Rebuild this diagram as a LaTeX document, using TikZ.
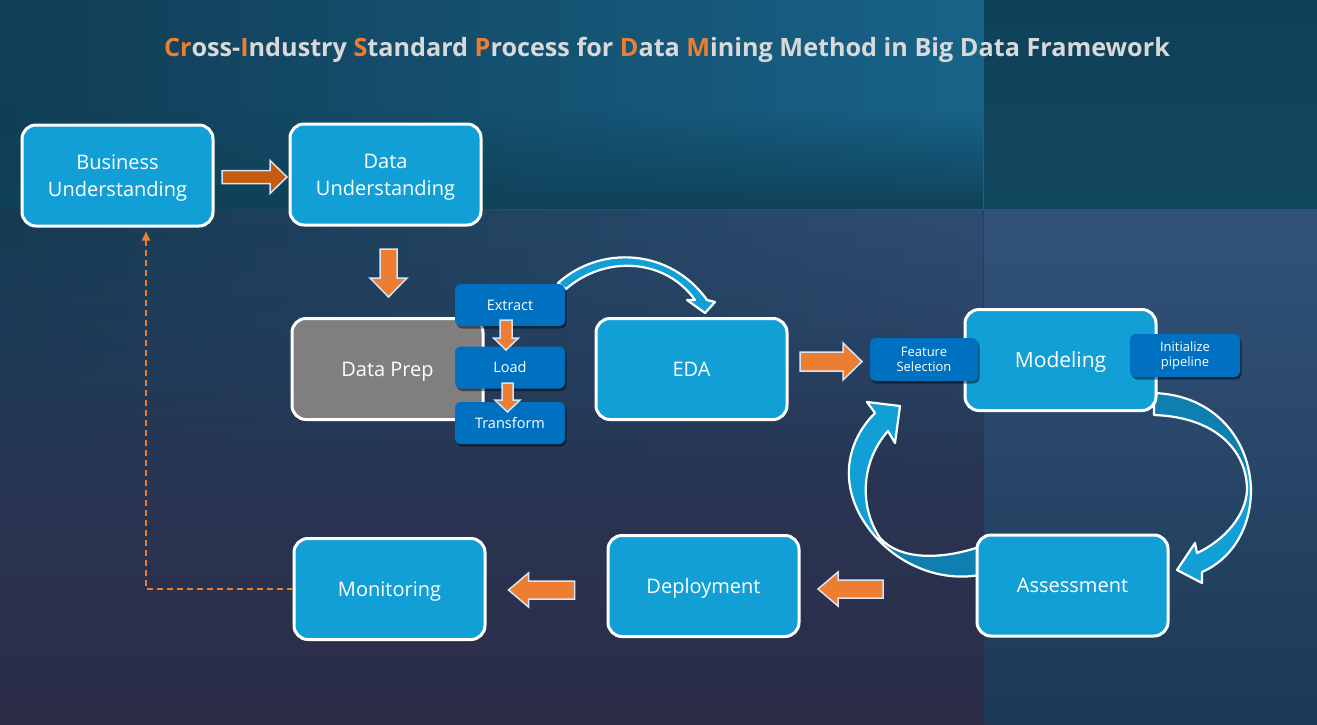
\documentclass[tikz,border=0pt]{standalone}
\usepackage{fontspec}
\setmainfont{Open Sans}
\usetikzlibrary{shadows,arrows.meta,calc,fadings}
\definecolor{nodeblue}{HTML}{129FD6}
\definecolor{banddark}{HTML}{0E7FAE}
\definecolor{smallblue}{HTML}{0070C0}
\definecolor{prepgray}{HTML}{7F7F7F}
\definecolor{corange}{HTML}{ED7D31}
\definecolor{darkorange}{HTML}{C55A11}
\definecolor{arrowedge}{HTML}{DAE3F3}
\definecolor{titlegray}{HTML}{D9D9D9}
\definecolor{lowtop}{HTML}{233F5F}
\definecolor{bgbot}{HTML}{2C2C47}
\definecolor{lowleft}{HTML}{163A52}
\definecolor{lowright}{HTML}{2F4D72}
\definecolor{bandleft}{HTML}{113D55}
\definecolor{bandright}{HTML}{186389}
\definecolor{banddeep}{HTML}{0F4258}
\definecolor{rtop}{HTML}{0F4259}
\definecolor{rtopb}{HTML}{11475F}
\definecolor{rpanT}{HTML}{32527A}
\definecolor{rpanB}{HTML}{1C3A55}
\tikzset{
  bigbox/.style={draw=white, line width=3pt, fill=nodeblue, rounded corners=14pt,
    minimum width=191pt, minimum height=101pt, text=white, align=center,
    text depth=0pt, font=\fontsize{20}{27}\selectfont},
  smallbox/.style={fill=smallblue, rounded corners=6pt, minimum width=110pt,
    minimum height=42pt, text=white, align=center, inner sep=2pt,
    drop shadow={shadow xshift=1.5pt, shadow yshift=-2.5pt, opacity=0.45, fill=black},
    font=\fontsize{14.5}{17}\selectfont},
  tinybox/.style={smallbox, font=\fontsize{13}{15.5}\selectfont},
  blockarr/.style={draw=arrowedge, line width=1.5pt, line join=miter},
  band/.style={draw=white, line width=2.2pt, line join=round},
  dashline/.style={draw=corange, line width=1.5pt, dash pattern=on 6pt off 4pt,
    -{Triangle[length=9pt,width=8pt]}},
  pics/barrow/.style args={#1/#2/#3/#4}{code={
    \path[pic actions] (-#1/2,-#2/2) -- (#1/2-#4,-#2/2) -- (#1/2-#4,-#3/2) -- (#1/2,0)
      -- (#1/2-#4,#3/2) -- (#1/2-#4,#2/2) -- (-#1/2,#2/2) -- cycle;}},
  toparrow/.style={insert path={(558,283) .. controls (600,245) and (670,248) .. (707,300)
    -- (715,302) -- (705,313) -- (687,300) -- (695,300)
    .. controls (665,258) and (605,255) .. (566,289) -- cycle}},
  rightarrow/.style={insert path={(1154,393) .. controls (1215,395) and (1250,440) .. (1251,490)
    .. controls (1251,530) and (1230,560) .. (1202,572) -- (1202,583) -- (1177,570)
    -- (1195,543) -- (1197,553) .. controls (1225,540) and (1246,515) .. (1247,490)
    .. controls (1247,450) and (1215,417) .. (1154,415) -- cycle}},
  leftarrow/.style={insert path={(979,575) .. controls (935,583) and (885,560) .. (860,515)
    .. controls (840,478) and (848,440) .. (875,413) -- (867,402) -- (900,406)
    -- (895,443) -- (888,431) .. controls (862,460) and (858,505) .. (880,538)
    .. controls (900,560) and (940,560) .. (979,547) -- cycle}}
}
\begin{document}
\begin{tikzpicture}[x=1pt,y=-1pt]
\useasboundingbox (0,0) rectangle (1317,724);
% background
\shade[top color=lowtop, bottom color=bgbot] (0,209) rectangle (986,724);
\shade[left color=lowleft, right color=lowright, path fading=south] (0,209) rectangle (986,470);
\shade[left color=bandleft, right color=bandright] (0,0) rectangle (986,209.5);
\fill[banddeep, path fading=north] (0,110) rectangle (986,209.5);
\shade[top color=rtop, bottom color=rtopb] (984.5,0) rectangle (1317,209.5);
\shade[top color=rpanT, bottom color=rpanB] (984.5,209) rectangle (1317,724);
% title
\node[font=\fontsize{25.2}{30}\selectfont\bfseries, text=titlegray] (title) at (667,50)
  {\textcolor{corange}{Cr}oss-\textcolor{corange}{I}ndustry
   \textcolor{corange}{S}tandard \textcolor{corange}{P}rocess for
   \textcolor{corange}{D}ata \textcolor{corange}{M}ining Method in Big Data Framework};
% curved block arrows (behind boxes)
\fill[nodeblue, toparrow];
\draw[band, toparrow];
\fill[nodeblue, rightarrow];
\begin{scope}
  \clip (1100,380) rectangle (1300,466);
  \fill[banddark, rightarrow];
\end{scope}
\draw[band, rightarrow];
\fill[nodeblue, leftarrow];
\begin{scope}
  \clip (870,533) rectangle (990,600);
  \fill[banddark, leftarrow];
\end{scope}
\draw[band, leftarrow];
% main boxes
\node[bigbox] (bu) at (117.5,175.5) {Business\\Understanding};
\node[bigbox] (du) at (385.5,174.5) {Data\\Understanding};
\node[bigbox, fill=prepgray] (dp) at (387.5,369) {Data Prep};
\node[bigbox] (eda) at (691.5,369) {EDA};
\node[bigbox, font=\fontsize{21}{27}\selectfont] (mod) at (1060.5,360) {Modeling};
\node[bigbox] (as) at (1072.5,585.5) {Assessment};
\node[bigbox] (dep) at (703.5,586) {Deployment};
\node[bigbox] (mon) at (389.5,589) {Monitoring};
% small boxes
\node[smallbox] (ex) at (510,305) {Extract};
\node[smallbox] (ld) at (510,367.5) {Load};
\node[smallbox] (tr) at (510,423) {Transform};
\node[tinybox, minimum width=108pt, minimum height=43pt] (fs) at (924,359.5) {Feature\\Selection};
\node[tinybox, minimum height=43pt] (ip) at (1185,355.5) {Initialize\\pipeline};
% orange block arrows
\pic[blockarr, fill=darkorange] at (254.5,177) {barrow=65/13/33/17};
\pic[blockarr, fill=corange, rotate=-90] at (388.5,273) {barrow=48/17/37/19};
\pic[blockarr, fill=corange, rotate=-90] at (506,335) {barrow=30/12/25/12};
\pic[blockarr, fill=corange, rotate=-90] at (507.5,397.5) {barrow=29/11/25/12};
\pic[blockarr, fill=corange] at (831,361.5) {barrow=62/19/37/19};
\pic[blockarr, fill=corange, rotate=180] at (850.5,589) {barrow=65/18/34/20};
\pic[blockarr, fill=corange, rotate=180] at (541.5,590) {barrow=66/18/34/20};
% dashed feedback connector
\draw[dashline, shorten >=4pt] (mon.west) -| ($(bu.south)+(28.5,0)$);
\end{tikzpicture}
\end{document}
